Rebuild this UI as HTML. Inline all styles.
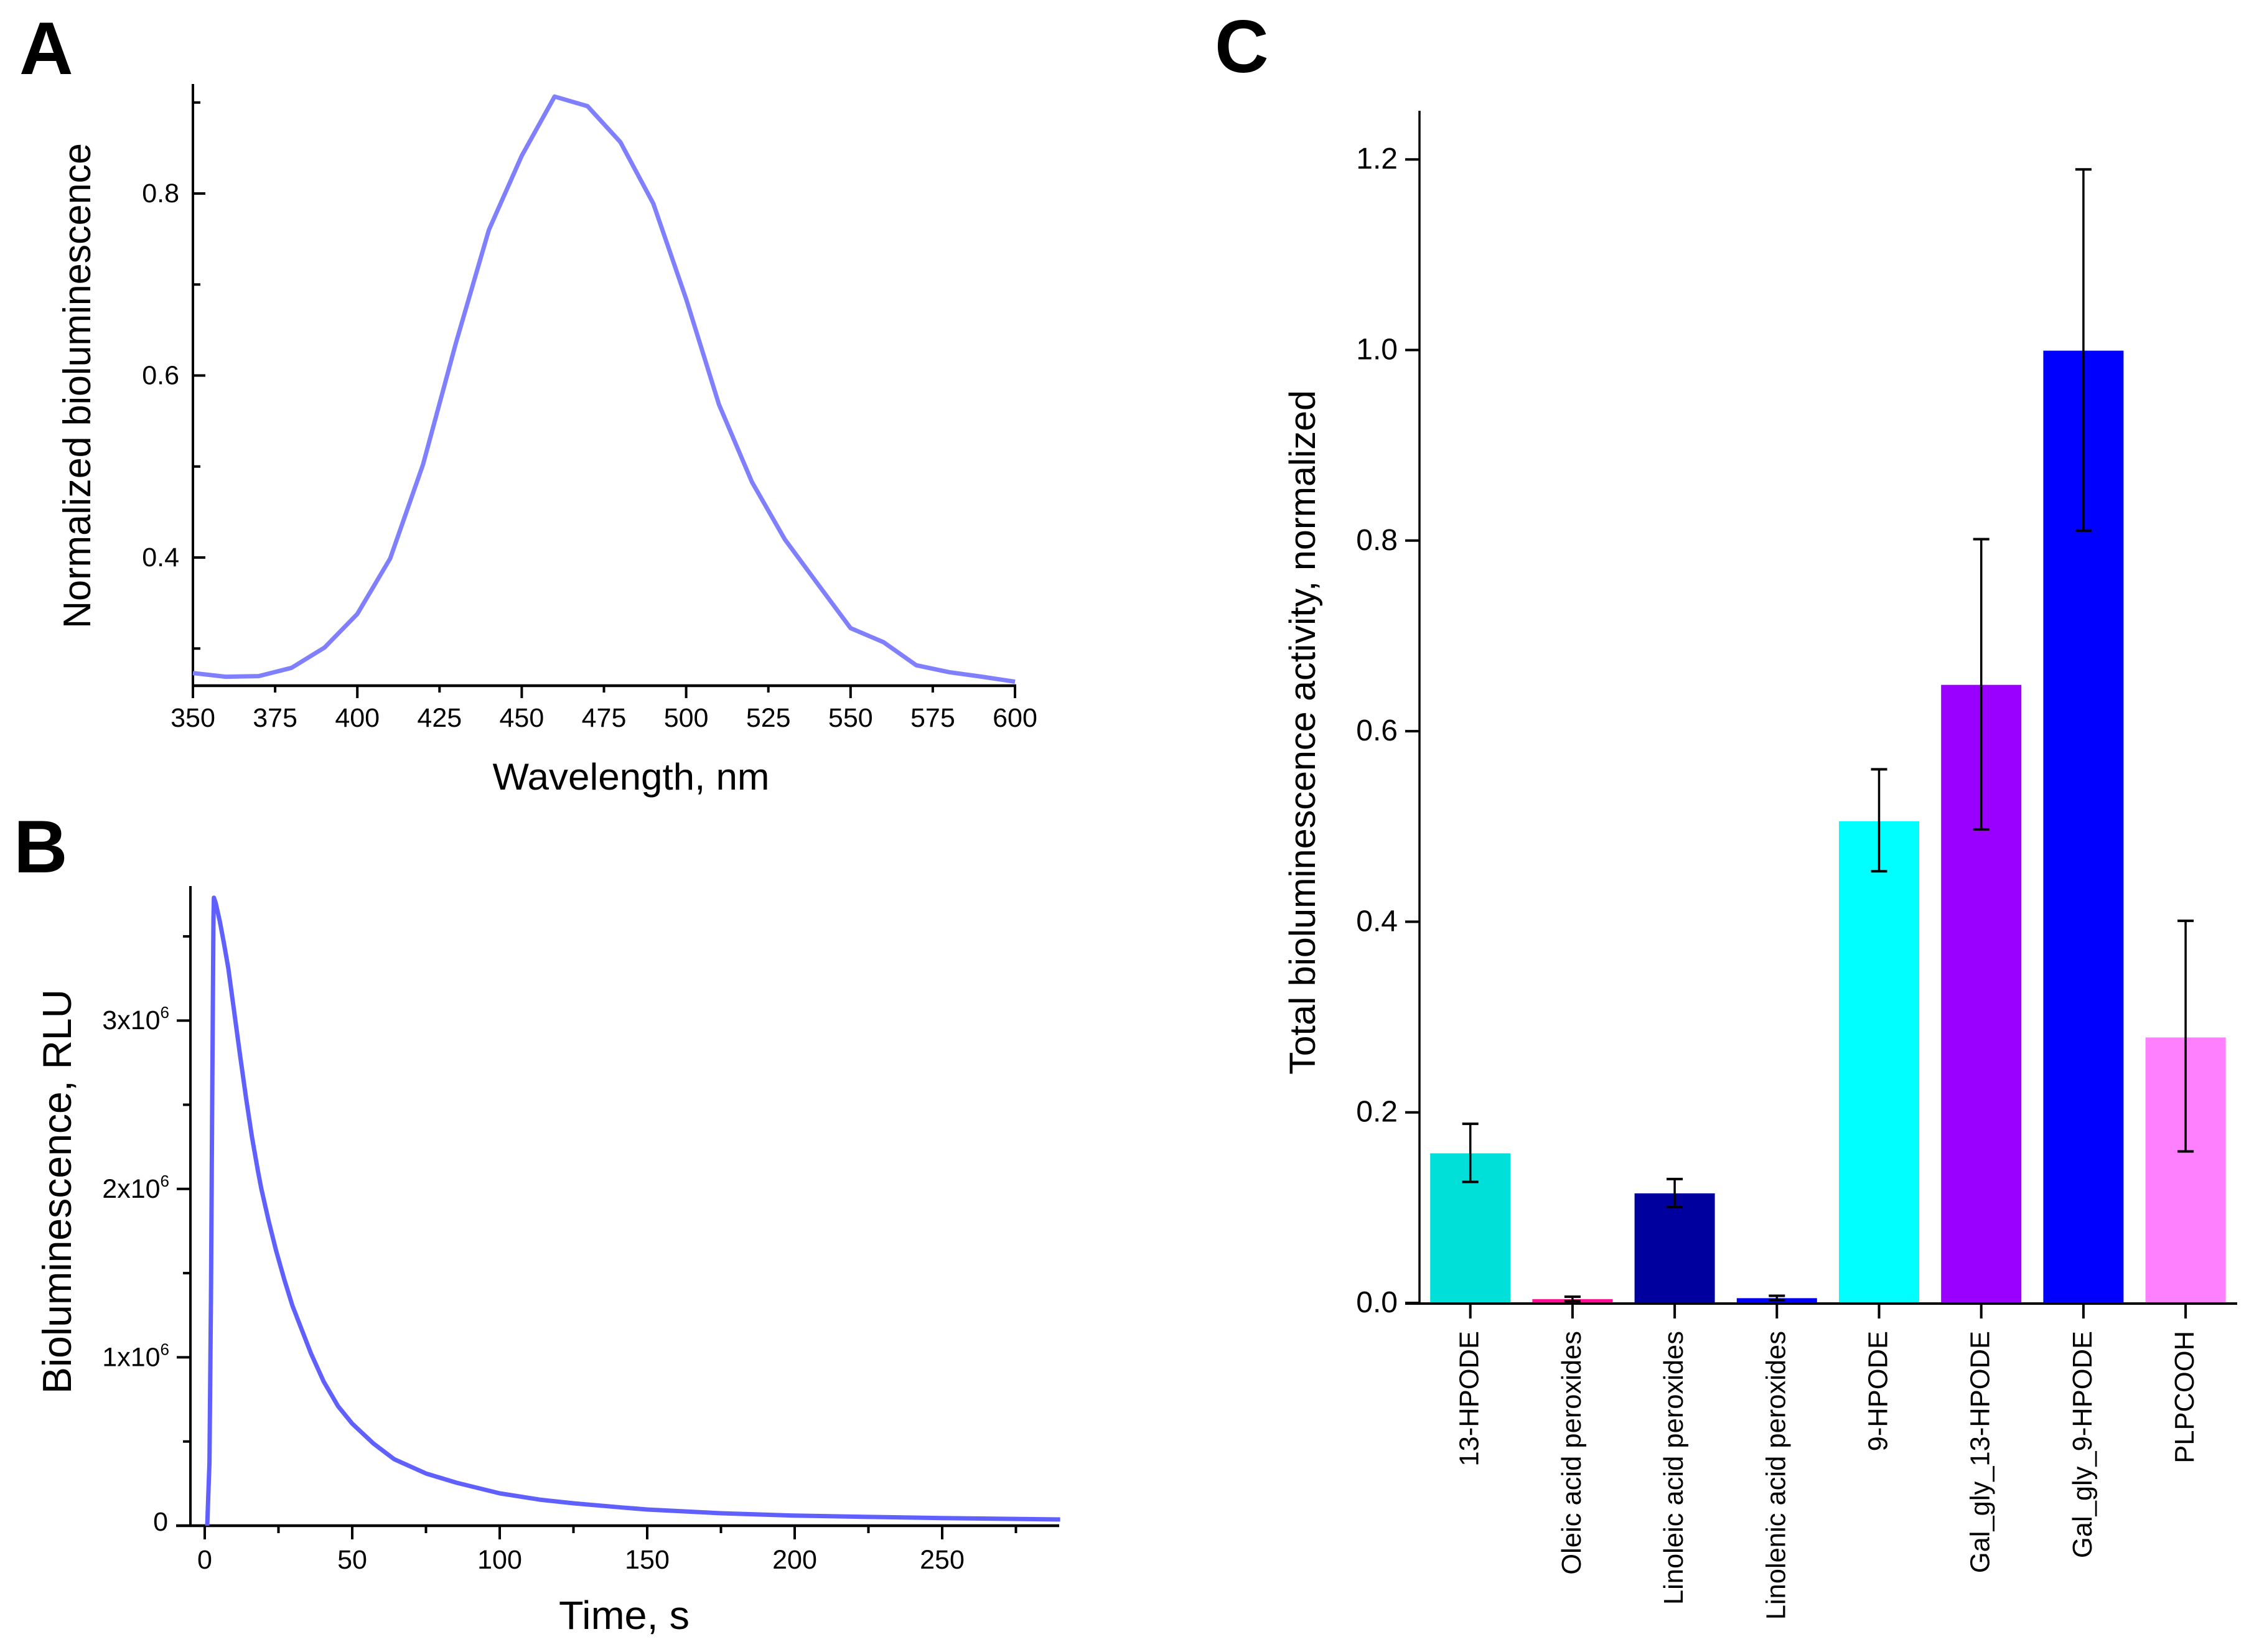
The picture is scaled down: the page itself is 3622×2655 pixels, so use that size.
<!DOCTYPE html>
<html>
<head>
<meta charset="utf-8">
<title>Bioluminescence figure</title>
<style>
html,body{margin:0;padding:0;background:#fff;}
svg{display:block;}
text{font-family:"Liberation Sans",Arial,sans-serif;fill:#000;}
</style>
</head>
<body>
<svg id="fig" xmlns="http://www.w3.org/2000/svg" width="3622" height="2655" viewBox="0 0 3622 2655">
<rect width="3622" height="2655" fill="#fff"/>
<text x="31" y="119" font-size="120" font-weight="bold">A</text>
<text x="22" y="1402" font-size="120" font-weight="bold">B</text>
<text x="1952" y="116" font-size="120" font-weight="bold">C</text>
<g id="panelA"></g>
<g id="panelB"></g>
<g id="panelC"></g>
<text x="1014" y="1269" font-size="60" text-anchor="middle" textLength="445" lengthAdjust="spacingAndGlyphs">Wavelength, nm</text>
<text transform="translate(145,620) rotate(-90)" font-size="62" text-anchor="middle" textLength="780" lengthAdjust="spacingAndGlyphs">Normalized bioluminescence</text>
<text x="1003" y="2618" font-size="64" text-anchor="middle" textLength="210" lengthAdjust="spacingAndGlyphs">Time, s</text>
<text transform="translate(114,1915) rotate(-90)" font-size="65" text-anchor="middle" textLength="650" lengthAdjust="spacingAndGlyphs">Bioluminescence, RLU</text>
<text transform="translate(2113,1177) rotate(-90)" font-size="58" text-anchor="middle" textLength="1100" lengthAdjust="spacingAndGlyphs">Total bioluminescence activity, normalized</text>
</svg>
<script>
// Panel A data
const wavelengths = [350,360,370,380,390,400,410,420,430,440,450,460,470,480,490,500,510,520,530,540,550,560,570,580,590,600];
const spectrumValues = [0.273,0.269,0.2697,0.2788,0.301,0.338,0.399,0.5025,0.636,0.760,0.8415,0.9065,0.896,0.8565,0.789,0.684,0.568,0.483,0.42,0.371,0.3224,0.307,0.2816,0.274,0.269,0.2635];
const xTicksA = [350,375,400,425,450,475,500,525,550,575,600];
const yTicksA = ["0.4","0.6","0.8"];
const yMinorA = [0.3,0.5,0.7,0.9];

// Panel B data
const times = [0.85,1.6,2.1,2.6,2.95,3.1,3.7,5.1,6.5,8,10,12,14,16,18,19.2,21.7,24.2,27,29.7,36,40.3,45.2,50,57.2,64.2,75,85.4,100,113.5,125,141.6,150,175,200,225,250,290];
const signal = [0,0.377,1.35,2.7,3.6,3.73,3.70,3.59,3.46,3.31,3.05,2.79,2.54,2.31,2.11,2.0,1.807,1.633,1.46,1.308,1.024,0.857,0.71,0.606,0.488,0.395,0.31,0.255,0.192,0.155,0.133,0.108,0.096,0.074,0.06,0.052,0.045,0.037];
const xTicksB = [0,50,100,150,200,250];
const xMinorB = [25,75,125,175,225,275];
const yTicksB = [0,1,2,3];
const yMinorB = [0.5,1.5,2.5,3.5];

// Panel C data
const categories = ["13-HPODE","Oleic acid peroxides","Linoleic acid peroxides","Linolenic acid peroxides","9-HPODE","Gal_gly_13-HPODE","Gal_gly_9-HPODE","PLPCOOH"];
const activity = [0.157,0.004,0.115,0.005,0.5055,0.6486,0.9993,0.2786];
const errHigh = [0.188,0.0065,0.130,0.0075,0.56,0.8015,1.1895,0.401];
const errLow = [0.127,0.002,0.1005,0.003,0.453,0.497,0.8105,0.159];
const barColors = ["#00DFD8","#FF1090","#00009E","#0000FF","#00FFFF","#9900FF","#0000FF","#FF80FF"];
const yTicksC = ["0.0","0.2","0.4","0.6","0.8","1.0","1.2"];

const NS = "http://www.w3.org/2000/svg";
function el(parent, tag, attrs, txt) {
  const e = document.createElementNS(NS, tag);
  for (const k in attrs) e.setAttribute(k, attrs[k]);
  if (txt !== undefined) e.textContent = txt;
  parent.appendChild(e);
  return e;
}
function seg(parent, x1, y1, x2, y2, w, name) {
  const l = el(parent, "line", {x1:x1, y1:y1, x2:x2, y2:y2, stroke:"#000", "stroke-width":w});
  
  
  return l;
}
function label(parent, x, y, size, anchor, s, name) {
  const t = el(parent, "text", {x:x, y:y, "font-size":size, "text-anchor":anchor}, s);
  
  
  return t;
}

// ---------- Panel A ----------
const gA = document.getElementById("panelA");
const xA = v => 310 + (v - 350) * (1631 - 310) / 250;
const yA = v => 896 - (v - 0.4) * (896 - 311) / 0.4;
seg(gA, 310, 135, 310, 1122, 4, "y-axis-line-a");
seg(gA, 308, 1102, 1633, 1102, 4.5, "x-axis-line-a");
xTicksA.forEach((v, i) => {
  seg(gA, xA(v), 1102, xA(v), i % 2 ? 1113 : 1122, 4, "x-tick-a");
  label(gA, xA(v), 1168, 43, "middle", String(v), "x-tick-label-a");
});
yTicksA.forEach(s => {
  const v = parseFloat(s);
  seg(gA, 310, yA(v), 330, yA(v), 4, "y-tick-a");
  label(gA, 288, yA(v) + 14, 43, "end", s, "y-tick-label-a");
});
yMinorA.forEach(v => {
  seg(gA, 310, yA(v), 322, yA(v), 4, "y-minor-tick-a");
});
const lineA = el(gA, "polyline", {
  points: wavelengths.map((w, i) => xA(w).toFixed(1) + "," + yA(spectrumValues[i]).toFixed(1)).join(" "),
  fill: "none", stroke: "#8080FF", "stroke-width": 7, "stroke-linejoin": "round"
});



// ---------- Panel B ----------
const gB = document.getElementById("panelB");
const xB = t => 329 + t * (566 - 329) / 50;
const yB = v => 2452 - v * 270.6;
seg(gB, 306, 1424, 306, 2452, 4, "y-axis-line-b");
seg(gB, 283, 2452, 1702, 2452, 4.5, "x-axis-line-b");
xTicksB.forEach(v => {
  seg(gB, xB(v), 2452, xB(v), 2474, 4, "x-tick-b");
  label(gB, xB(v), 2521, 43, "middle", String(v), "x-tick-label-b");
});
xMinorB.forEach(v => {
  seg(gB, xB(v), 2452, xB(v), 2464, 4, "x-minor-tick-b");
});
yTicksB.forEach(v => {
  seg(gB, 284, yB(v), 306, yB(v), 4, "y-tick-b");
  if (v === 0) {
    label(gB, 270, yB(v) + 8, 43, "end", "0", "y-tick-label-b");
  } else {
    const t = label(gB, 272, yB(v) + 14, 43, "end", v + "x10", "y-tick-label-b");
    const sup = el(t, "tspan", {dy: -18, "font-size": 26}, "6");
    
    
  }
});
yMinorB.forEach(v => {
  seg(gB, 294, yB(v), 306, yB(v), 4, "y-minor-tick-b");
});
const lineB = el(gB, "polyline", {
  points: times.map((t, i) => xB(t).toFixed(1) + "," + yB(signal[i]).toFixed(1)).join(" "),
  fill: "none", stroke: "#6060FF", "stroke-width": 7, "stroke-linejoin": "round"
});



// ---------- Panel C ----------
const gC = document.getElementById("panelC");
const xC = i => 2362.7 + i * 164.2;
const yC = v => 2094 - v * 1531.5;
const barW = 129;
categories.forEach((c, i) => {
  const r = el(gC, "rect", {x: xC(i) - barW / 2, y: yC(activity[i]), width: barW, height: yC(0) - yC(activity[i]), fill: barColors[i]});
  
  
});
seg(gC, 2281, 178, 2281, 2095, 3.5, "y-axis-line-c");
seg(gC, 2258, 2095, 3595, 2095, 4, "x-axis-line-c");
categories.forEach((c, i) => {
  seg(gC, xC(i), yC(errLow[i]), xC(i), yC(errHigh[i]), 3.5, "error-bar");
  seg(gC, xC(i) - 13, yC(errHigh[i]), xC(i) + 13, yC(errHigh[i]), 4, "error-cap-high");
  seg(gC, xC(i) - 13, yC(errLow[i]), xC(i) + 13, yC(errLow[i]), 4, "error-cap-low");
  seg(gC, xC(i), 2095, xC(i), 2119, 4, "x-tick-c");
  const t = el(gC, "text", {transform: "translate(" + (xC(i) + 13) + ",2139) rotate(-90)", "font-size": 43.5, "text-anchor": "end"}, c);
  
  
});
yTicksC.forEach(s => {
  const v = parseFloat(s);
  seg(gC, 2258, yC(v), 2281, yC(v), 4, "y-tick-c");
  label(gC, 2246, yC(v) + 15, 48, "end", s, "y-tick-label-c");
});
</script>
</body>
</html>
